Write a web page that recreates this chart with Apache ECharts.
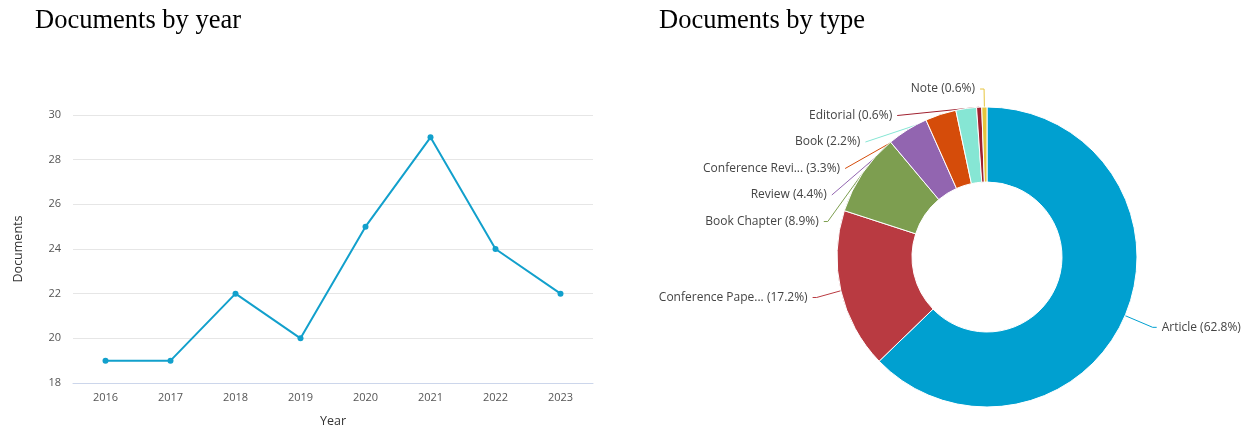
<!DOCTYPE html>
<html>
<head>
<meta charset="utf-8">
<script src="https://cdn.jsdelivr.net/npm/echarts@6/dist/echarts.min.js"></script>
<style>
  html, body { margin: 0; padding: 0; background: #fff; }
  #main { width: 1246px; height: 428px; }
</style>
</head>
<body>
<div id="main"></div>
<script>
var years = ['2016', '2017', '2018', '2019', '2020', '2021', '2022', '2023'];
var docsByYear = [19, 19, 22, 20, 25, 29, 24, 22];

var typeNames = ['Article', 'Conference Paper', 'Book Chapter', 'Review', 'Conference Review', 'Book', 'Editorial', 'Note'];
var typeCounts = [113, 31, 16, 8, 6, 4, 1, 1];
var typeColors = ['#00a0d0', '#b93a41', '#7d9e50', '#9265b0', '#d54c0a', '#86e6d4', '#a0202f', '#e6c43c'];

var chart = echarts.init(document.getElementById('main'));

var labelFont = '"Open Sans", "Noto Sans", sans-serif';
var titleStyle = { fontFamily: '"Liberation Serif", serif', fontSize: 26.5, fontWeight: 'normal', color: '#000' };

chart.setOption({
  animation: false,
  title: [
    { text: 'Documents by year', left: 30, top: 3, textStyle: titleStyle },
    { text: 'Documents by type', left: 654, top: 3, textStyle: titleStyle }
  ],
  grid: { left: 73, top: 115, width: 520, height: 268, outerBoundsMode: 'none' },
  xAxis: {
    type: 'category',
    data: years,
    name: 'Year',
    nameLocation: 'middle',
    nameGap: 32,
    nameTextStyle: { fontFamily: labelFont, fontSize: 12.5, color: '#333' },
    axisLine: { lineStyle: { color: '#ccd6eb' } },
    axisTick: { show: false },
    axisLabel: { fontFamily: labelFont, fontSize: 11, color: '#555', margin: 9 }
  },
  yAxis: {
    type: 'value',
    min: 18, max: 30, interval: 2,
    name: 'Documents',
    nameLocation: 'middle',
    nameRotate: 90,
    nameGap: 48,
    nameTextStyle: { fontFamily: labelFont, fontSize: 12.5, color: '#333' },
    axisLine: { show: false },
    axisTick: { show: false },
    axisLabel: { fontFamily: labelFont, fontSize: 11, color: '#555', margin: 12 },
    splitLine: { lineStyle: { color: '#e6e6e6' } }
  },
  series: [
    {
      type: 'line',
      data: docsByYear,
      symbol: 'circle',
      symbolSize: 6,
      lineStyle: { color: '#12a0cc', width: 2 },
      itemStyle: { color: '#12a0cc' }
    },
    {
      type: 'pie',
      center: [987, 257],
      radius: [75, 150],
      startAngle: 90,
      percentPrecision: 1,
      data: typeNames.map(function (n, i) {
        var item = { name: n, value: typeCounts[i], itemStyle: { color: typeColors[i] } };
        // the two big slices get longer connectors
        if (i < 2) item.labelLine = { length: 30 };
        return item;
      }),
      itemStyle: { borderColor: '#fff', borderWidth: 1 },
      label: {
        fontFamily: labelFont,
        fontSize: 12,
        lineHeight: 24.5,
        color: '#444',
        overflow: 'none',
        formatter: function (p) {
          var n = p.name.length > 15 ? p.name.slice(0, 15) + '...' : p.name;
          return n + ' (' + p.percent.toFixed(1) + '%)';
        }
      },
      labelLine: { length: 18, length2: 4, lineStyle: { width: 1 } }
    }
  ]
});
</script>
</body>
</html>
